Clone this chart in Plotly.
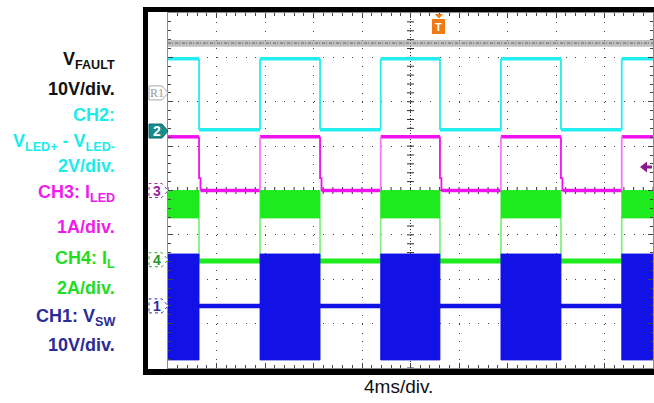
import numpy as np
import plotly.graph_objects as go

FIG_W, FIG_H = 654, 403
M_L, M_R, M_T, M_B = 168, 1, 13, 35
PLOT_W = FIG_W - M_L - M_R
PLOT_H = FIG_H - M_T - M_B

# ---------------- data (x in ms, y in scope divisions, centre = 0) ----------------
time_range_ms = [0, 40]          # 10 div x 4 ms/div
div_range = [-4, 4]              # 8 vertical divisions
rise_ms = [7.59, 17.54, 27.46, 37.42]
fall_ms = [2.56, 12.54, 22.43, 32.41]

fault_band = [3.24, 3.39]        # V_FAULT noisy trace envelope
fault_mid = 3.32
ch2_levels = [2.97, 1.37]        # high, low
ch3_levels = [1.21, 0.28, 0.0]   # high, intermediate step, low
ch3_jog_ms = 0.12
ch4_on_band = [-0.62, 0.0]
ch4_off = -1.59
ch1_on_band = [-3.82, -1.43]
ch1_off = -2.60

marker_labels = ["R1", "2", "3", "4", "1"]
marker_levels = [2.20, 1.34, 0.0, -1.56, -2.60]
trigger_time_ms = 22.35
trigger_level = 0.53

left_labels = ["V<sub>FAULT</sub>", "10V/div.", "CH2:", "V<sub>LED+</sub> - V<sub>LED-</sub>",
               "2V/div.", "CH3: I<sub>LED</sub>", "1A/div.", "CH4: I<sub>L</sub>", "2A/div.",
               "CH1: V<sub>SW</sub>", "10V/div."]
left_label_colors = ["#111111", "#111111", "#1DEBEB", "#1DEBEB", "#1DEBEB",
                     "#F01CEB", "#F01CEB", "#22DD22", "#22DD22", "#2B2B96", "#2B2B96"]
left_label_ypx = [60, 89, 115, 142, 166, 193, 227, 259, 288, 317, 345]
x_caption = "4ms/div."

# ---------------- colours ----------------
C_FAULT = "rgba(150,150,150,0.6)"
C_FAULT_LINE = "rgba(105,105,105,0.85)"
C_CH2 = "#22EEF0"
C_CH3 = "#F010F0"
C_CH3_EDGE = "#F77AF7"
C_CH4 = "#1DEB1D"
C_CH4_EDGE = "#84F084"
C_CH1 = "#1212E6"

on_start = [time_range_ms[0]] + rise_ms
on_end = fall_ms + [time_range_ms[1]]
off_start = fall_ms
off_end = rise_ms


def px_x(px):
    return (px - M_L) / PLOT_W


def px_y(py):
    return (FIG_H - M_B - py) / PLOT_H


DIV_PX = PLOT_H / (div_range[1] - div_range[0])
MS_PX = PLOT_W / (time_range_ms[1] - time_range_ms[0])


def flat(starts, ends, level):
    xs, ys = [], []
    for s, e in zip(starts, ends):
        xs += [s, e, None]
        ys += [level, level, None]
    return xs, ys


def rects(starts, ends, lo, hi):
    xs, ys = [], []
    for s, e in zip(starts, ends):
        xs += [s, e, e, s, s, None]
        ys += [lo, lo, hi, hi, lo, None]
    return xs, ys


def verticals(times, y0, y1):
    xs, ys = [], []
    for t in times:
        xs += [t, t, None]
        ys += [y0, y1, None]
    return xs, ys


fig = go.Figure()
common = dict(hoverinfo="skip", showlegend=False)

# centre-line tick marks (graticule)
cx = np.arange(0, 40.001, 0.8)
fig.add_trace(go.Scatter(x=cx, y=np.zeros_like(cx), mode="markers",
                         marker=dict(symbol="line-ns", size=5, line=dict(width=1, color="#333")),
                         cliponaxis=False, **common))
cy = np.arange(-4, 4.001, 0.2)
fig.add_trace(go.Scatter(x=np.full_like(cy, 20.0), y=cy, mode="markers",
                         marker=dict(symbol="line-ew", size=5, line=dict(width=1, color="#333")),
                         cliponaxis=False, **common))

# V_FAULT
x, y = rects([time_range_ms[0]], [time_range_ms[1]], fault_band[0], fault_band[1])
fig.add_trace(go.Scatter(x=x, y=y, fill="toself", fillcolor=C_FAULT, mode="lines",
                         line=dict(width=0), **common))
x, y = flat([time_range_ms[0]], [time_range_ms[1]], fault_mid)
fig.add_trace(go.Scatter(x=x, y=y, mode="lines", line=dict(color=C_FAULT_LINE, width=1.2,
                                                           dash="3px,1px,1px,2px"), **common))

# CH2
x, y = flat(on_start, on_end, ch2_levels[0])
fig.add_trace(go.Scatter(x=x, y=y, mode="lines", line=dict(color=C_CH2, width=3.5), **common))
x, y = flat(off_start, off_end, ch2_levels[1])
fig.add_trace(go.Scatter(x=x, y=y, mode="lines", line=dict(color=C_CH2, width=3.5), **common))
x, y = verticals(rise_ms + fall_ms, ch2_levels[1], ch2_levels[0])
fig.add_trace(go.Scatter(x=x, y=y, mode="lines", line=dict(color=C_CH2, width=1.8), **common))

# CH3
x, y = flat(on_start, on_end, ch3_levels[0])
fig.add_trace(go.Scatter(x=x, y=y, mode="lines", line=dict(color=C_CH3, width=3.5), **common))
x, y = flat([t + ch3_jog_ms for t in off_start], off_end, ch3_levels[2])
fig.add_trace(go.Scatter(x=x, y=y, mode="lines", line=dict(color=C_CH3, width=3.5), **common))
x, y = verticals(rise_ms, ch3_levels[2], ch3_levels[0])
fig.add_trace(go.Scatter(x=x, y=y, mode="lines", line=dict(color=C_CH3_EDGE, width=1.8), **common))
xs, ys = [], []
for t in fall_ms:
    xs += [t, t, t + ch3_jog_ms, t + ch3_jog_ms, None]
    ys += [ch3_levels[0], ch3_levels[1], ch3_levels[1], ch3_levels[2], None]
fig.add_trace(go.Scatter(x=xs, y=ys, mode="lines", line=dict(color=C_CH3, width=1.8), **common))

# CH4
x, y = verticals(rise_ms + fall_ms, ch4_off, ch4_on_band[0])
fig.add_trace(go.Scatter(x=x, y=y, mode="lines", line=dict(color=C_CH4_EDGE, width=1.8), **common))
x, y = rects(on_start, on_end, ch4_on_band[0], ch4_on_band[1])
fig.add_trace(go.Scatter(x=x, y=y, fill="toself", fillcolor=C_CH4, mode="lines",
                         line=dict(width=0.8, color=C_CH4), **common))
x, y = flat(off_start, off_end, ch4_off)
fig.add_trace(go.Scatter(x=x, y=y, mode="lines", line=dict(color=C_CH4, width=5), **common))

# CH1
x, y = flat(off_start, off_end, ch1_off)
fig.add_trace(go.Scatter(x=x, y=y, mode="lines", line=dict(color=C_CH1, width=4.5), **common))
x, y = rects(on_start, on_end, ch1_on_band[0], ch1_on_band[1])
fig.add_trace(go.Scatter(x=x, y=y, fill="toself", fillcolor=C_CH1, mode="lines",
                         line=dict(width=0.8, color=C_CH1), **common))

shapes = []
# black instrument frame
shapes.append(dict(type="rect", xref="paper", yref="paper", x0=px_x(143), x1=px_x(700),
                   y0=px_y(375), y1=px_y(7), fillcolor="black", line=dict(width=0), layer="below"))
shapes.append(dict(type="rect", xref="paper", yref="paper", x0=px_x(148), x1=px_x(700),
                   y0=px_y(369), y1=px_y(12), fillcolor="white", line=dict(width=0), layer="below"))
# dense dotted centre lines
shapes.append(dict(type="line", xref="x", yref="y", x0=20, x1=20, y0=div_range[0], y1=div_range[1],
                   line=dict(color="#333", width=1, dash="1px,2px"), layer="below"))
shapes.append(dict(type="line", xref="x", yref="y", x0=0, x1=40, y0=0, y1=0,
                   line=dict(color="#333", width=1, dash="1px,2px"), layer="below"))

# channel markers in the left margin
m_fill = ["white", "#178C8C", "white", "white", "white"]
m_line = ["#A8A8A8", "#0E6C6C", "#A030A0", "#30B030", "#3838B0"]
m_text = ["#9A9A9A", "white", "#992299", "#229922", "#2A2A9A"]
m_dash = ["solid", "solid", "dot", "dot", "dot"]
half = 7 / DIV_PX
for lab, lv, fc, lc, tc, dsh in zip(marker_labels, marker_levels, m_fill, m_line, m_text, m_dash):
    xa, xb, xc = px_x(149), px_x(162), px_x(168)
    path = (f"M{xa},{lv - half} L{xb},{lv - half} L{xc},{lv} L{xb},{lv + half} "
            f"L{xa},{lv + half} Z")
    shapes.append(dict(type="path", xref="paper", yref="y", path=path, fillcolor=fc,
                       line=dict(color=lc, width=1, dash=dsh), layer="above"))

# trigger-level arrow on the right
lv = trigger_level
h5, h1 = 5.5 / DIV_PX, 1.5 / DIV_PX
path = (f"M{px_x(640)},{lv} L{px_x(647)},{lv + h5} L{px_x(647)},{lv + h1} L{px_x(652)},{lv + h1} "
        f"L{px_x(652)},{lv - h1} L{px_x(647)},{lv - h1} L{px_x(647)},{lv - h5} Z")
shapes.append(dict(type="path", xref="paper", yref="y", path=path, fillcolor="#8B1A8B",
                   line=dict(width=0)))
# trigger-position marker at top
tx0, tx1 = trigger_time_ms - 4.2 / MS_PX, trigger_time_ms + 4.2 / MS_PX
path = f"M{tx0},{px_y(14)} L{tx1},{px_y(14)} L{trigger_time_ms},{px_y(18.5)} Z"
shapes.append(dict(type="path", xref="x", yref="paper", path=path, fillcolor="#F07A14",
                   line=dict(width=0)))

annotations = []
for lab, lv, tc in zip(marker_labels, marker_levels, m_text):
    is_r = lab == "R1"
    annotations.append(dict(x=px_x(156.5), y=lv, xref="paper", yref="y",
                            text=lab if is_r else f"<b>{lab}</b>", showarrow=False,
                            font=dict(family="Liberation Serif, Times New Roman, serif" if is_r
                                      else "Liberation Sans, Arial, sans-serif",
                                      size=12 if is_r else 14, color=tc),
                            xanchor="center", yanchor="middle"))
annotations.append(dict(x=trigger_time_ms, y=px_y(27), xref="x", yref="paper", text="<b>T</b>",
                        showarrow=False, bgcolor="#F07A14", bordercolor="#F07A14", borderpad=1,
                        width=9, height=11, font=dict(family="Liberation Sans, Arial", size=11,
                                                      color="white"),
                        xanchor="center", yanchor="middle"))
for txt, col, ypx in zip(left_labels, left_label_colors, left_label_ypx):
    annotations.append(dict(x=px_x(117), y=px_y(ypx), xref="paper", yref="paper",
                            text=f"<b>{txt}</b>", showarrow=False, xanchor="right",
                            yanchor="middle",
                            font=dict(family="Liberation Sans, Arial, sans-serif", size=18,
                                      color=col)))
annotations.append(dict(x=px_x(398), y=px_y(386), xref="paper", yref="paper", text=x_caption,
                        showarrow=False, xanchor="center", yanchor="middle",
                        font=dict(family="Liberation Sans, Arial, sans-serif", size=19,
                                  color="#111")))

axis_common = dict(showticklabels=False, zeroline=False, showline=True, linecolor="#8C8C8C",
                   linewidth=1, mirror="ticks", ticks="inside", ticklen=5, tickcolor="#444",
                   showgrid=True, gridcolor="#444", gridwidth=1, fixedrange=True)

fig.update_layout(
    width=FIG_W, height=FIG_H,
    margin=dict(l=M_L, r=M_R, t=M_T, b=M_B, pad=0),
    paper_bgcolor="white", plot_bgcolor="white",
    xaxis=dict(range=time_range_ms, dtick=4, tick0=0, griddash="1px,7.875px",
               minor=dict(dtick=0.8, ticks="inside", ticklen=3, tickcolor="#444", showgrid=False),
               **axis_common),
    yaxis=dict(range=div_range, dtick=1, tick0=0, griddash="1px,8.7px",
               minor=dict(dtick=0.2, ticks="inside", ticklen=3, tickcolor="#444", showgrid=False),
               **axis_common),
    shapes=shapes, annotations=annotations,
)

fig.write_html("out.html", config={"displayModeBar": False},
               post_script="document.body.style.margin='0px';document.body.style.padding='0px';")
